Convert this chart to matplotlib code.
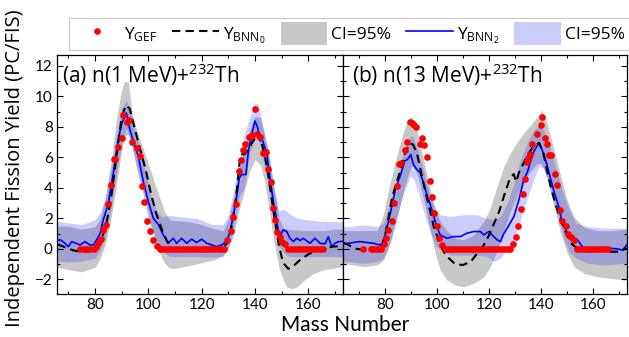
import matplotlib
matplotlib.use("Agg")
import matplotlib.pyplot as plt
from matplotlib.lines import Line2D
from matplotlib.patches import Patch
from matplotlib.ticker import MultipleLocator

plt.rcParams['font.family'] = ['Open Sans', 'DejaVu Sans']
plt.rcParams['mathtext.fontset'] = 'custom'
plt.rcParams['mathtext.rm'] = 'Open Sans'
plt.rcParams['mathtext.it'] = 'Open Sans:italic'
plt.rcParams['mathtext.bf'] = 'Open Sans:bold'

x_ticks = [80, 100, 120, 140, 160]
y_ticks = [-2, 0, 2, 4, 6, 8, 10, 12]

# ---- (a) n(1 MeV)+232Th ----
a_gef_x = [74.5, 75.7, 77.0, 78.3, 79.5, 80.5, 81.3, 82.1, 83.1, 84.1, 85.0, 85.9, 87.1, 87.5,
           88.7, 90.0, 90.6, 91.9, 92.9, 93.8, 95.6, 96.9, 97.5, 98.5, 99.6, 100.6, 101.6, 103.1,
           104.2, 105.3, 106.4, 107.5, 108.6, 109.7, 110.8, 111.9, 113.0, 114.1, 115.2, 116.3,
           117.4, 118.5, 119.6, 120.7, 121.8, 122.9, 124.0, 125.1, 126.2, 127.3, 128.3,
           129.6, 130.9, 131.9, 132.9, 134.0, 134.8, 135.6, 136.2, 137.9, 139.0, 140.0, 140.9,
           141.9, 143.1, 144.1, 145.0, 145.9, 146.6, 147.5, 148.4, 149.4, 150.3, 151.3,
           152.4, 153.5, 154.6, 155.7, 156.8, 157.9, 159.0, 160.1, 161.2, 162.3, 163.4, 164.5, 165.6]
a_gef_y = [0.0, 0.0, 0.0, 0.0, 0.0, 0.1, 0.37, 0.66, 1.25, 1.58, 2.96, 4.2, 5.86, 5.86,
           6.67, 7.24, 8.77, 8.33, 8.42, 7.0, 6.62, 6.07, 4.1, 3.07, 1.8, 1.18, 0.59, 0.22,
           0.0, 0.0, 0.0, 0.0, 0.0, 0.0, 0.0, 0.0, 0.0, 0.0, 0.0, 0.0,
           0.0, 0.0, 0.0, 0.0, 0.0, 0.0, 0.0, 0.0, 0.0, 0.0, 0.0,
           0.59, 1.18, 2.06, 2.94, 5.13, 5.8, 6.51, 6.89, 7.32, 7.46, 9.14, 7.5,
           7.32, 6.29, 6.34, 5.26, 4.39, 2.67, 1.9, 1.14, 0.81, 0.48, 0.3,
           0.0, 0.0, 0.0, 0.0, 0.0, 0.0, 0.0, 0.0, 0.0, 0.0, 0.0, 0.0, 0.0]

a_bnn0_x = [66, 69, 72, 75, 78, 80, 82, 84, 86, 88, 90, 91.5, 93, 95, 97, 99, 101, 103, 105,
            107, 109, 112, 116, 120, 124, 128, 130, 131.5, 133, 134.5, 136, 137.5, 139, 140.5,
            141.5, 143, 144.5, 146, 147.5, 149, 150.5, 152.5, 154.5, 157, 160, 163, 166, 169, 173]
a_bnn0_y = [0.3, 0.1, -0.1, -0.2, -0.15, 0.0, 0.5, 1.4, 3.3, 6.0, 8.6, 9.4, 9.2, 7.8, 6.5, 5.2,
            3.6, 2.3, 1.3, 0.5, 0.05, 0.0, 0.0, 0.0, 0.0, 0.05, 0.5, 1.7, 3.5, 6.2, 6.2, 6.5,
            7.0, 7.4, 7.6, 6.6, 5.4, 3.6, 1.8, 0.2, -0.9, -1.3, -1.1, -0.7, -0.35, -0.1, 0.0,
            0.15, 0.2]

a_bnn2_x = [66, 67, 68.75, 70, 71.25, 72.5, 74.4, 76.25, 78.1, 79.4, 80.6, 81.9, 83.1, 85,
            86.9, 88.75, 90, 91.8, 93.1, 94.4, 96.25, 98.1, 100, 101.9, 103.75, 105.6, 107.5,
            109.4, 110.6, 112.5, 114.4, 116.25, 118.1, 120, 121.9, 123.75, 125.6, 127.5, 129.4,
            130.6, 131.9, 133.1, 134.1, 135, 136.6, 137.5, 138.75, 140, 141, 141.9, 142.5,
            143.75, 144.4, 145.6, 146.9, 147.9, 148.75, 149.6, 150.6, 151.9, 153.1, 154.4,
            155.6, 157, 158.1, 160.6, 162.5, 164.4, 166.25, 167.5, 168.75, 170, 171.25, 173]
a_bnn2_y = [0.55, 0.6, 0.37, 0.15, 0.48, 0.4, 0.26, 0.48, 0.26, 0.26, 0.6, 1.0, 1.9, 3.0,
            5.0, 7.2, 8.2, 8.9, 7.8, 7.06, 6.07, 4.43, 3.1, 2.0, 1.6, 0.92, 0.4,
            0.7, 0.37, 0.7, 0.37, 0.64, 0.42, 0.64, 0.37, 0.26, 0.15, 0.26, 0.5,
            1.1, 2.2, 3.4, 4.65, 4.87, 4.87, 6.4, 7.5, 8.38, 7.94, 7.06, 7.28,
            6.62, 6.29, 4.65, 3.1, 2.13, 1.14, 0.92, 1.25, 1.14, 0.7, 0.48,
            0.7, 0.55, 0.7, 0.37, 0.7, 0.37, 0.33, 0.8, 0.15, 0.37, 0.48, 0.5]

a_ci0_x = [66, 70, 75, 80, 82, 84, 86, 88, 89.5, 91, 92.5, 94, 96, 98, 100, 102, 104, 106, 108,
           110, 115, 120, 125, 128, 130, 132, 134, 136, 138, 140, 142, 143.5, 145, 147, 149,
           150.5, 152, 154, 156, 158, 162, 166, 170, 173]
a_ci0_hi = [1.5, 1.5, 1.3, 1.45, 2.0, 3.5, 5.7, 8.4, 10.0, 11.0, 10.9, 8.8, 7.6, 6.6, 5.6, 4.5,
            3.5, 2.5, 1.9, 1.85, 1.8, 1.6, 1.3, 1.2, 1.9, 3.4, 5.2, 6.6, 7.8, 8.7, 8.6, 7.5,
            6.3, 4.2, 2.0, 1.4, 1.3, 1.25, 1.25, 1.2, 1.2, 1.2, 1.3, 1.3]
a_ci0_lo = [-1.2, -1.35, -1.5, -1.2, -0.6, 0.4, 2.0, 4.1, 5.9, 7.4, 7.5, 6.6, 4.9, 3.6, 2.0,
            0.8, -0.2, -0.9, -1.25, -1.27, -1.1, -0.9, -0.7, -0.4, 0.1, 0.9, 2.5, 3.8, 5.1,
            5.85, 5.5, 4.5, 2.9, 0.6, -1.2, -2.0, -2.5, -2.6, -2.45, -2.1, -1.6, -1.35,
            -1.25, -1.15]

a_ci2_x = [66, 70, 75, 80, 82, 84, 86, 88, 90, 91.8, 93.5, 95, 97, 99, 101, 103, 105, 108,
           112, 118, 124, 128, 130, 132, 134, 136, 138, 140, 141.5, 143, 145, 147, 149, 151,
           153, 156, 160, 165, 170, 173]
a_ci2_hi = [1.8, 1.7, 1.6, 1.9, 2.4, 3.4, 5.2, 7.3, 9.2, 9.7, 8.9, 7.8, 6.6, 5.0, 3.5, 2.5,
            2.1, 2.2, 2.1, 2.0, 1.6, 1.6, 2.2, 3.8, 5.9, 7.5, 8.6, 9.6, 9.4, 8.0, 6.5, 4.0,
            2.5, 2.6, 2.3, 2.0, 1.9, 1.8, 1.8, 1.8]
a_ci2_lo = [-0.8, -0.85, -0.8, -0.6, -0.1, 0.8, 2.6, 4.9, 6.9, 7.9, 7.0, 5.9, 4.6, 3.2, 1.6,
            0.6, -0.1, -0.5, -0.5, -0.5, -0.55, -0.5, 0.0, 1.4, 3.4, 4.0, 6.3, 7.2, 7.1, 5.8,
            4.2, 1.8, 0.2, -0.3, -0.5, -0.5, -0.5, -0.5, -0.5, -0.5]

# ---- (b) n(13 MeV)+232Th ----
b_gef_x = [71.6, 74.5, 75.5, 76.5, 77.5, 78.5, 79.4, 80.4, 81.3, 82.6, 83.5, 84.5, 85.5, 86.2,
           87.5, 88.6, 89.4, 90.3, 91.2, 92.0, 93.3, 94.2, 95.1, 96.3, 97.1, 98.0, 99.0, 99.9,
           100.8, 101.9,
           103.0, 104.1, 105.2, 106.3, 107.4, 108.5, 109.6, 110.7, 111.8, 112.9, 114.0, 115.1,
           116.2, 117.3, 118.4, 119.5, 120.6, 121.7, 122.8, 123.9, 125.0, 126.1, 127.2, 128.2,
           129.2, 130.2, 131.2, 132.4, 133.2, 133.8, 134.5, 135.0, 135.7, 136.6, 138.3, 139.9,
           140.5, 141.5, 142.4, 143.1, 144.0, 145.3, 146.3, 147.3, 148.2, 149.5, 150.4, 151.4,
           152.7,
           153.8, 154.9, 156.0, 157.1, 158.2, 159.3, 160.4, 161.5, 162.6, 163.7, 164.8, 165.9]
b_gef_y = [0.0, 0.0, 0.0, 0.0, 0.0, 0.0, 0.3, 0.7, 1.25, 1.8, 3.0, 4.1, 5.53, 5.64,
           6.45, 7.0, 8.33, 8.22, 8.11, 8.0, 6.89, 7.28, 6.78, 6.0, 4.47, 3.38, 2.35, 1.47,
           0.7, 0.26,
           0.0, 0.0, 0.0, 0.0, 0.0, 0.0, 0.0, 0.0, 0.0, 0.0, 0.0, 0.0,
           0.0, 0.0, 0.0, 0.0, 0.0, 0.0, 0.0, 0.0, 0.0, 0.0, 0.0, 0.0,
           0.33, 0.81, 1.47, 2.63, 3.62, 4.6, 5.68, 5.96, 6.25, 6.9, 7.54, 8.09,
           8.66, 7.28, 6.89, 6.12, 6.12, 4.91, 4.21, 2.52, 1.8, 1.47, 0.99, 0.81,
           0.6,
           0.0, 0.0, 0.0, 0.0, 0.0, 0.0, 0.0, 0.0, 0.0, 0.0, 0.0, 0.0]

b_bnn0_x = [64, 66, 68, 72, 76, 78, 79, 80, 81.3, 82.6, 84.5, 86.4, 87.7, 89.4, 90.7, 92.2, 93.5,
            94.8, 96.1, 97.4, 98.7, 99.9, 101.2, 102.5, 104.5, 107, 110, 113, 115.5, 118, 120,
            122, 124, 126, 128, 129.5, 130.5, 131.5, 133, 135, 137, 139.3, 141, 142.5, 144, 146,
            148, 150, 152, 154, 158, 162, 166, 170, 173]
b_bnn0_y = [0.4, 0.26, 0.04, -0.07, -0.07, 0.04, 0.25, 0.9, 2.0, 3.3, 4.4, 5.4, 6.3, 6.9, 6.85,
            6.3, 5.3, 4.3, 3.33, 2.46, 1.47, 0.92, 0.37, -0.18, -0.6, -1.0, -1.05, -0.83, -0.28,
            0.26, 0.9, 1.7, 2.5, 3.6, 4.6, 4.9, 4.4, 5.0, 5.5, 6.2, 6.7, 6.95, 6.2, 5.0, 3.9,
            2.7, 1.7, 0.9, 0.3, 0.05, -0.07, -0.07, -0.18, -0.18, 0.04]

b_bnn2_x = [64, 65.8, 67.8, 70.3, 72.9, 75.5, 78, 79, 80, 81.3, 82.6, 83.9, 85.1, 86.4, 87.5,
            88.6, 89.9, 90.9, 92.2, 93.5, 94.8, 96.1, 97.4, 98.7, 99.9, 101.2, 102.5, 103.8,
            106.4, 109, 111.5, 114.1, 116.7, 118, 119.9, 121.8, 123.1, 124.4, 125.7, 127,
            129.6, 131.5, 133.4, 134.7, 136, 137.3, 139.2, 141.2, 143.1, 145, 147, 148.2,
            150.2, 152.1, 154, 155.9, 157.9, 159.8, 161.7, 164.3, 166.9, 169.4, 171.4, 173]
b_bnn2_y = [0.35, 0.37, 0.42, 0.48, 0.42, 0.37, 0.26, 0.4, 0.92, 1.8, 2.78, 3.88, 4.43, 5.09,
            5.75, 5.86, 6.18, 5.53, 5.2, 4.98, 4.32, 3.55, 2.9, 2.13, 1.47, 0.92, 0.81, 0.7,
            0.81, 0.81, 1.03, 1.14, 1.14, 0.92, 1.14, 0.81, 0.6, 0.48, 1.0, 1.36,
            2.13, 3.22, 4.54, 5.0, 5.75, 6.4, 6.95, 6.18, 4.98, 3.77, 2.68, 1.69,
            1.03, 0.6, 0.6, 0.15, -0.18, -0.18, 0.0, -0.07, 0.04, 0.0, -0.07, 0.26]

b_ci0_x = [64, 66, 72, 77, 79.4, 81.9, 84.5, 86.4, 88.4, 90.3, 92.2, 94.8, 97.4, 99.3, 101.2,
           103.8, 107, 110.2, 114, 118, 120.5, 123.1, 125.7, 128.3, 130.8, 133.4, 136, 138.6,
           140.2, 142.4, 145, 147.6, 150.1, 152.7, 156.6, 161.7, 166.9, 173]
b_ci0_hi = [1.2, 1.2, 1.2, 1.2, 2.3, 4.3, 6.07, 7.28, 8.38, 8.7, 7.8, 5.85, 3.88, 2.6, 1.8,
            1.2, 0.7, 0.6, 0.9, 1.8, 2.7, 4.1, 5.4, 6.3, 7.0, 7.6, 8.1, 8.7, 9.1, 8.2, 6.5,
            4.76, 3.2, 2.1, 1.4, 1.2, 1.2, 1.3]
b_ci0_lo = [-1.0, -1.0, -1.16, -1.05, -0.72, 0.37, 1.9, 3.3, 4.6, 5.5, 5.0, 3.3, 1.2, -0.3,
            -1.38, -2.04, -2.37, -2.48, -2.26, -1.82, -1.16, -0.1, 1.2, 2.5, 3.5, 4.4, 5.1,
            5.6, 5.6, 4.54, 2.78, 1.03, -0.28, -1.16, -1.6, -1.82, -1.93, -2.04]

b_ci2_x = [64, 66, 72, 77, 79.4, 81.9, 84.5, 87.1, 89.7, 90.9, 92.9, 95.4, 97.4, 99.3, 101.2,
           105.1, 110.2, 115.4, 119.3, 121.8, 124.4, 127, 129.6, 132.1, 134.7, 137.3, 139.2,
           141.1, 143.7, 146.3, 148.9, 150.8, 153.4, 157.9, 164.3, 173]
b_ci2_hi = [1.47, 1.47, 1.58, 1.47, 1.7, 3.0, 4.54, 6.3, 7.4, 7.3, 6.3, 4.76, 3.44, 2.57,
            2.24, 2.13, 2.24, 2.24, 2.0, 1.9, 2.13, 3.0, 4.3, 5.85, 6.95, 7.8, 8.05, 7.8, 6.5,
            5.0, 3.44, 2.57, 1.7, 1.47, 1.36, 1.36]
b_ci2_lo = [-0.83, -0.83, -0.94, -0.83, -0.6, 0.37, 2.13, 3.66, 4.76, 4.6, 3.66, 2.1, 1.1,
            0.3, -0.07, -0.4, -0.4, -0.4, -0.5, -0.83, -0.6, 0.0, 0.6, 1.9, 3.3, 4.6, 5.4,
            5.3, 3.88, 2.35, 0.6, -0.2, -0.6, -0.94, -1.05, -0.94]

GRAY = '#c8c8c8'
DASH = (4, 2.5)


def draw_panel(ax, ci0, ci2, bnn0, bnn2, gef, title, title_x, xlim, show_ylabels):
    ax.fill_between(ci0[0], ci0[1], ci0[2], color=GRAY, lw=0, zorder=1)
    ax.fill_between(ci2[0], ci2[1], ci2[2], color='blue', alpha=0.2, lw=0, zorder=2)
    ax.plot(bnn2[0], bnn2[1], color='blue', lw=1.2, zorder=3)
    ax.plot(bnn0[0], bnn0[1], color='black', lw=1.5, dashes=DASH, zorder=4)
    ax.plot(gef[0], gef[1], 'o', color='red', ms=4.8, mec='none', zorder=5)

    ax.set_xlim(xlim)
    ax.set_ylim(-2.95, 12.7)
    ax.set_xticks(x_ticks)
    ax.set_xticklabels([str(t) for t in x_ticks], fontfamily='Lato', fontsize=11)
    ax.set_yticks(y_ticks)
    if show_ylabels:
        ax.set_yticklabels([str(t).replace('-', '\u2212') for t in y_ticks],
                           fontfamily='Lato', fontsize=11)
    else:
        ax.set_yticklabels([])
    ax.xaxis.set_minor_locator(MultipleLocator(10))
    ax.yaxis.set_minor_locator(MultipleLocator(1))
    ax.tick_params(which='both', direction='in', top=True, right=True, width=0.8, pad=3)
    ax.tick_params(which='major', length=4.5)
    ax.tick_params(which='minor', length=2.5)
    for sp in ax.spines.values():
        sp.set_linewidth(0.9)
    ax.text(title_x, 0.975, title, transform=ax.transAxes, ha='left', va='top', fontsize=15)


fig = plt.figure(figsize=(6.29, 3.37), dpi=100)
ax_a = fig.add_axes([57 / 629, 1 - 294 / 337, 286 / 629, 239 / 337])
ax_b = fig.add_axes([343 / 629, 1 - 294 / 337, 284 / 629, 239 / 337])

draw_panel(ax_a, (a_ci0_x, a_ci0_lo, a_ci0_hi), (a_ci2_x, a_ci2_lo, a_ci2_hi),
           (a_bnn0_x, a_bnn0_y), (a_bnn2_x, a_bnn2_y), (a_gef_x, a_gef_y),
           '(a) n(1 MeV)+$^{232}$Th', 0.016, (65.75, 173), True)
draw_panel(ax_b, (b_ci0_x, b_ci0_lo, b_ci0_hi), (b_ci2_x, b_ci2_lo, b_ci2_hi),
           (b_bnn0_x, b_bnn0_y), (b_bnn2_x, b_bnn2_y), (b_gef_x, b_gef_y),
           '(b) n(13 MeV)+$^{232}$Th', 0.033, (63.8, 173.1), False)

fig.text(0.024, 0.5, 'Independent Fission Yield (PC/FIS)', rotation=90,
         ha='center', va='center', fontsize=14.5)
fig.text(345 / 629, 1 - 325 / 337, 'Mass Number', ha='center', va='center',
         fontfamily='Lato', fontsize=15)

handles = [Line2D([], [], ls='none', marker='o', color='red', ms=4.8, mec='none'),
           Line2D([], [], color='black', lw=1.5, dashes=DASH),
           Patch(facecolor=GRAY, edgecolor='none'),
           Line2D([], [], color='blue', lw=1.2),
           Patch(facecolor='blue', alpha=0.2, edgecolor='none')]
labels = ['Y$_{\\mathrm{GEF}}$', 'Y$_{\\mathrm{BNN}_0}$', 'CI=95%',
          'Y$_{\\mathrm{BNN}_2}$', 'CI=95%']
leg = fig.legend(handles, labels, loc='upper left', bbox_to_anchor=(69 / 629, 1 - 18 / 337),
                 ncol=5, frameon=True, fancybox=False, edgecolor='#bbbbbb',
                 fontsize=12.5, handlelength=2.7, handleheight=1.6, handletextpad=0.2,
                 columnspacing=0.88, borderpad=0.25, borderaxespad=0)
leg.get_frame().set_linewidth(0.8)

fig.savefig('out.png', dpi=100)
